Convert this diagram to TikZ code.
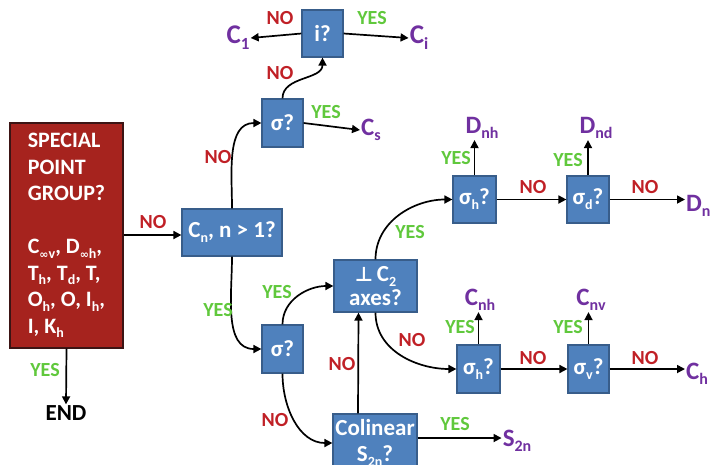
\documentclass[tikz,border=0pt]{standalone}
\usepackage{fontspec}
\setmainfont{Carlito}
\newfontfamily\symfont{DejaVu Sans}
\usetikzlibrary{arrows.meta}
\definecolor{boxblue}{RGB}{79,129,189}
\definecolor{boxedge}{RGB}{56,93,138}
\definecolor{spred}{RGB}{166,35,30}
\definecolor{spedge}{RGB}{60,20,20}
\definecolor{grp}{RGB}{112,48,160}
\definecolor{nored}{RGB}{192,32,38}
\definecolor{yesgreen}{RGB}{96,200,60}
\newcommand\lo[1]{\raisebox{-0.45ex}{\fontsize{14}{14}\selectfont #1}}
\newcommand\mlo[1]{\raisebox{-0.45ex}{\fontsize{16}{16}\selectfont #1}}
\newcommand\blo[1]{\raisebox{-0.45ex}{\fontsize{17}{17}\selectfont #1}}
\newcommand\infy{{\symfont\fontsize{11}{11}\selectfont ∞}}
\begin{document}
\begin{tikzpicture}[x=1pt,y=-1pt,
  qbox/.style={draw=boxedge,fill=boxblue,line width=1.2pt,text=white,
    font=\bfseries\fontsize{23}{24}\selectfont,align=center,inner sep=0pt},
  grpl/.style={text=grp,font=\bfseries\fontsize{25}{26}\selectfont,inner sep=1pt},
  grpbig/.style={text=grp,font=\bfseries\fontsize{27}{28}\selectfont,inner sep=1pt},
  yes/.style={text=yesgreen,font=\bfseries\fontsize{20}{22}\selectfont,inner sep=0pt},
  no/.style={text=nored,font=\bfseries\fontsize{20}{22}\selectfont,inner sep=0pt},
  arr/.style={-{Triangle[length=8pt,width=8pt]},line width=1.7pt,black}]
\useasboundingbox (0,0) rectangle (711,464);
% red box
\node[draw=spedge,fill=spred,line width=1.4pt,text=white,minimum width=113pt,minimum height=225pt,
  inner sep=0pt,align=left,font=\bfseries\fontsize{22}{26.5}\selectfont]
  (sp) at (66.5,235.5) {SPECIAL\\POINT\\GROUP?\\[26.5pt]C\lo{\infy v}, D\lo{\infy h},\\T\lo{h}, T\lo{d}, T,\\O\lo{h}, O, I\lo{h},\\I, K\lo{h}};
\node[font=\bfseries\fontsize{23}{24}\selectfont,inner sep=1pt] (end) at (66,413) {END};
% blue boxes
\node[qbox,minimum width=100pt,minimum height=47pt] (cn) at (232,232.5) {C\lo{n}, n > 1?};
\node[qbox,minimum width=41pt,minimum height=48pt] (s1) at (282.5,123) {σ?};
\node[qbox,minimum width=41pt,minimum height=47pt] (ib) at (322.5,33.5) {i?};
\node[qbox,minimum width=41pt,minimum height=48pt] (s2) at (282.5,349) {σ?};
\node[qbox,minimum width=83pt,minimum height=52pt] (pp) at (375.5,286) {{\symfont\fontsize{20}{20}\selectfont ⊥}\,C\lo{2}\\axes?};
\node[qbox,minimum width=84pt,minimum height=58pt] (col) at (375,443) {Colinear\\[2pt]S\lo{2n}?};
\node[qbox,minimum width=43pt,minimum height=47pt] (sh1) at (474.5,199.5) {σ\lo{h}?};
\node[qbox,minimum width=42pt,minimum height=47pt] (sd) at (588,199.5) {σ\lo{d}?};
\node[qbox,minimum width=43pt,minimum height=48pt] (sh2) at (478.5,369) {σ\lo{h}?};
\node[qbox,minimum width=41pt,minimum height=48pt] (sv) at (588.5,369) {σ\lo{v}?};
% result labels
\node[grpbig] (c1) at (238,38) {C\blo{1}};
\node[grpbig] (ci) at (419,38) {C\blo{i}};
\node[grpl] (cs) at (371,130) {C\mlo{s}};
\node[grpl] (dnh) at (482,128) {D\mlo{nh}};
\node[grpl] (dnd) at (596,128) {D\mlo{nd}};
\node[grpl,anchor=west] (dn) at (685,206) {D\mlo{n}};
\node[grpl] (cnh) at (480,300) {C\mlo{nh}};
\node[grpl] (cnv) at (591,300) {C\mlo{nv}};
\node[grpl,anchor=west] (ch) at (685,374) {C\mlo{h}};
\node[grpl] (s2n) at (517,441) {S\mlo{2n}};
% connectors
\draw[arr] (sp.south) -- (end.north);
\node[yes] at (45,370) {YES};
\draw[arr] (sp.east |- 0,235) -- (cn.west |- 0,235);
\node[no] at (153,222) {NO};
\draw[arr] (cn.north) to[out=90,in=180] (s1.west);
\node[no] at (218,157) {NO};
\draw[arr] (cn.south) to[out=-90,in=180] (s2.west);
\node[yes] at (218,310) {YES};
\draw[arr] (s1.east) -- (cs.west);
\node[yes] at (326,112) {YES};
\draw[arr] (s1.north) to[out=90,in=-90] (ib.south);
\node[no] at (280,73) {NO};
\draw[arr] (ib.west) -- (c1.east);
\node[no] at (280,18) {NO};
\draw[arr] (ib.east) -- (ci.west);
\node[yes] at (372,18) {YES};
\draw[arr] (s2.north) to[out=90,in=180] (pp.west);
\node[yes] at (277,292) {YES};
\draw[arr] (s2.south) to[out=-90,in=180] (col.west);
\node[no] at (275,420) {NO};
\draw[arr] ([xshift=-17pt]col.north) -- ([xshift=-17pt]pp.south);
\node[no] at (342,364) {NO};
\draw[arr] (col.east |- 0,438) -- (s2n.west |- 0,438);
\node[yes] at (455,424) {YES};
\draw[arr] (pp.north) to[out=90,in=180] (sh1.west);
\node[yes] at (410,232) {YES};
\draw[arr] (pp.south) to[out=-90,in=180] (sh2.west);
\node[no] at (412,340) {NO};
\draw[arr] (sh1.east) -- (sd.west);
\node[no] at (533,187) {NO};
\draw[arr] (sd.east) -- (dn.west |- sd.east);
\node[no] at (645,187) {NO};
\draw[arr] (sh1.north) -- (sh1.north |- dnh.south);
\node[yes] at (456,158) {YES};
\draw[arr] (sd.north) -- (sd.north |- dnd.south);
\node[yes] at (568,160) {YES};
\draw[arr] (sh2.east) -- (sv.west);
\node[no] at (533,358) {NO};
\draw[arr] (sv.east) -- (ch.west |- sv.east);
\node[no] at (645,358) {NO};
\draw[arr] (sh2.north) -- (sh2.north |- cnh.south);
\node[yes] at (460,327) {YES};
\draw[arr] (sv.north) -- (sv.north |- cnv.south);
\node[yes] at (568,327) {YES};
\end{tikzpicture}
\end{document}
